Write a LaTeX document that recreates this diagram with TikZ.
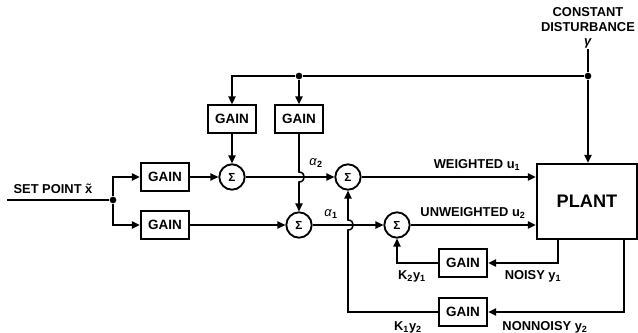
\documentclass[tikz,border=0pt]{standalone}
\usepackage{fontspec}
\setmainfont{Liberation Sans}
\usetikzlibrary{calc,positioning,arrows.meta}
\tikzset{
  gain/.style={rectangle,draw=black,line width=1.7pt,minimum width=1.45cm,minimum height=0.82cm,inner sep=0pt,font=\fontsize{11.5}{12}\selectfont\bfseries},
  sum/.style={circle,draw=black,line width=1.6pt,minimum size=0.76cm,inner sep=0pt,font=\fontsize{10}{11}\selectfont\bfseries},
  plantbox/.style={rectangle,draw=black,line width=2pt,minimum width=3cm,minimum height=2.25cm,inner sep=0pt,font=\fontsize{15.5}{16}\selectfont\bfseries},
  sig/.style={line width=1.3pt,black},
  sigarrow/.style={sig,-{Triangle[length=2.4mm,width=2.2mm]}},
  lbl/.style={font=\fontsize{11}{12.5}\selectfont\bfseries,inner sep=0pt},
  dot/.style={circle,fill=black,minimum size=2mm,inner sep=0pt},
}
\begin{document}
\begin{tikzpicture}[x=0.03cm,y=-0.03cm]
  \useasboundingbox (0,0) rectangle (638,333);
  \node[gain](g1) at (165,177){GAIN}; \node[gain](g2) at (165,225){GAIN};
  \node[gain](g3) at (232,119){GAIN}; \node[gain](g4) at (299,119){GAIN};
  \node[gain](g5) at (463,263){GAIN}; \node[gain](g6) at (463,312){GAIN};
  \node[sum](s1) at (232,177){Σ}; \node[sum](s2) at (299,225){Σ};
  \node[sum](s3) at (348,177){Σ}; \node[sum](s4) at (397,225){Σ};
  \node[plantbox](pl) at (587,201.5){PLANT};
  \node[dot](j0) at (113,200){}; \node[dot](j1) at (299,76){}; \node[dot](j2) at (588,76){};
  \coordinate (x0) at (7,200);
  \coordinate (h1) at (299,177); \coordinate (h2) at (348,225);
  \coordinate (o1) at (558,239); \coordinate (o2) at (624,239);
  \node[lbl,align=center](dist) at (588,28){CONSTANT\\DISTURBANCE\\\textit{γ}};
  \draw[sig] (x0) -- (j0);
  \draw[sigarrow] (j0) |- (g1); \draw[sigarrow] (j0) |- (g2);
  \draw[sigarrow] (g1) -- (s1); \draw[sigarrow] (g2) -- (s2);
  \draw[sig] (j2) -- (j1); \draw[sigarrow] (j1) -| (g3); \draw[sigarrow] (j1) -- (g4);
  \draw[sigarrow] (g3) -- (s1);
  \draw[sigarrow] (g4) -- ($(h1)+(0,-5)$) .. controls +(7,0) and +(7,0) .. ($(h1)+(0,5)$) -- (s2);
  \draw[sigarrow] (s1) -- (s3); \draw[sigarrow] (s3) -- (s3 -| pl.west);
  \draw[sigarrow] (s2) -- (s4); \draw[sigarrow] (s4) -- (s4 -| pl.west);
  \draw[sig] (dist) -- (j2); \draw[sigarrow] (j2) -- (j2 |- pl.north);
  \draw[sigarrow] (o1) |- (g5); \draw[sigarrow] (g5) -| (s4);
  \draw[sigarrow] (o2) |- (g6);
  \draw[sigarrow] (g6) -| ($(h2)+(0,5)$) .. controls +(7,0) and +(7,0) .. ($(h2)+(0,-5)$) -- (s3);
  \node[lbl](sp) at (53,189){SET POINT \~x};
  \node[lbl](a2) at (316,163){\textmd{\textit{α}}\textsubscript{2}};
  \node[lbl](a1) at (331,214){\textmd{\textit{α}}\textsubscript{1}};
  \node[lbl](u1) at (477,165){WEIGHTED u\textsubscript{1}};
  \node[lbl](u2) at (473,213){UNWEIGHTED u\textsubscript{2}};
  \node[lbl](y1) at (533,276){NOISY y\textsubscript{1}};
  \node[lbl](k2) at (412,276){K\textsubscript{2}y\textsubscript{1}};
  \node[lbl](y2) at (545,327){NONNOISY y\textsubscript{2}};
  \node[lbl](k1) at (408,327){K\textsubscript{1}y\textsubscript{2}};
\end{tikzpicture}
\end{document}
